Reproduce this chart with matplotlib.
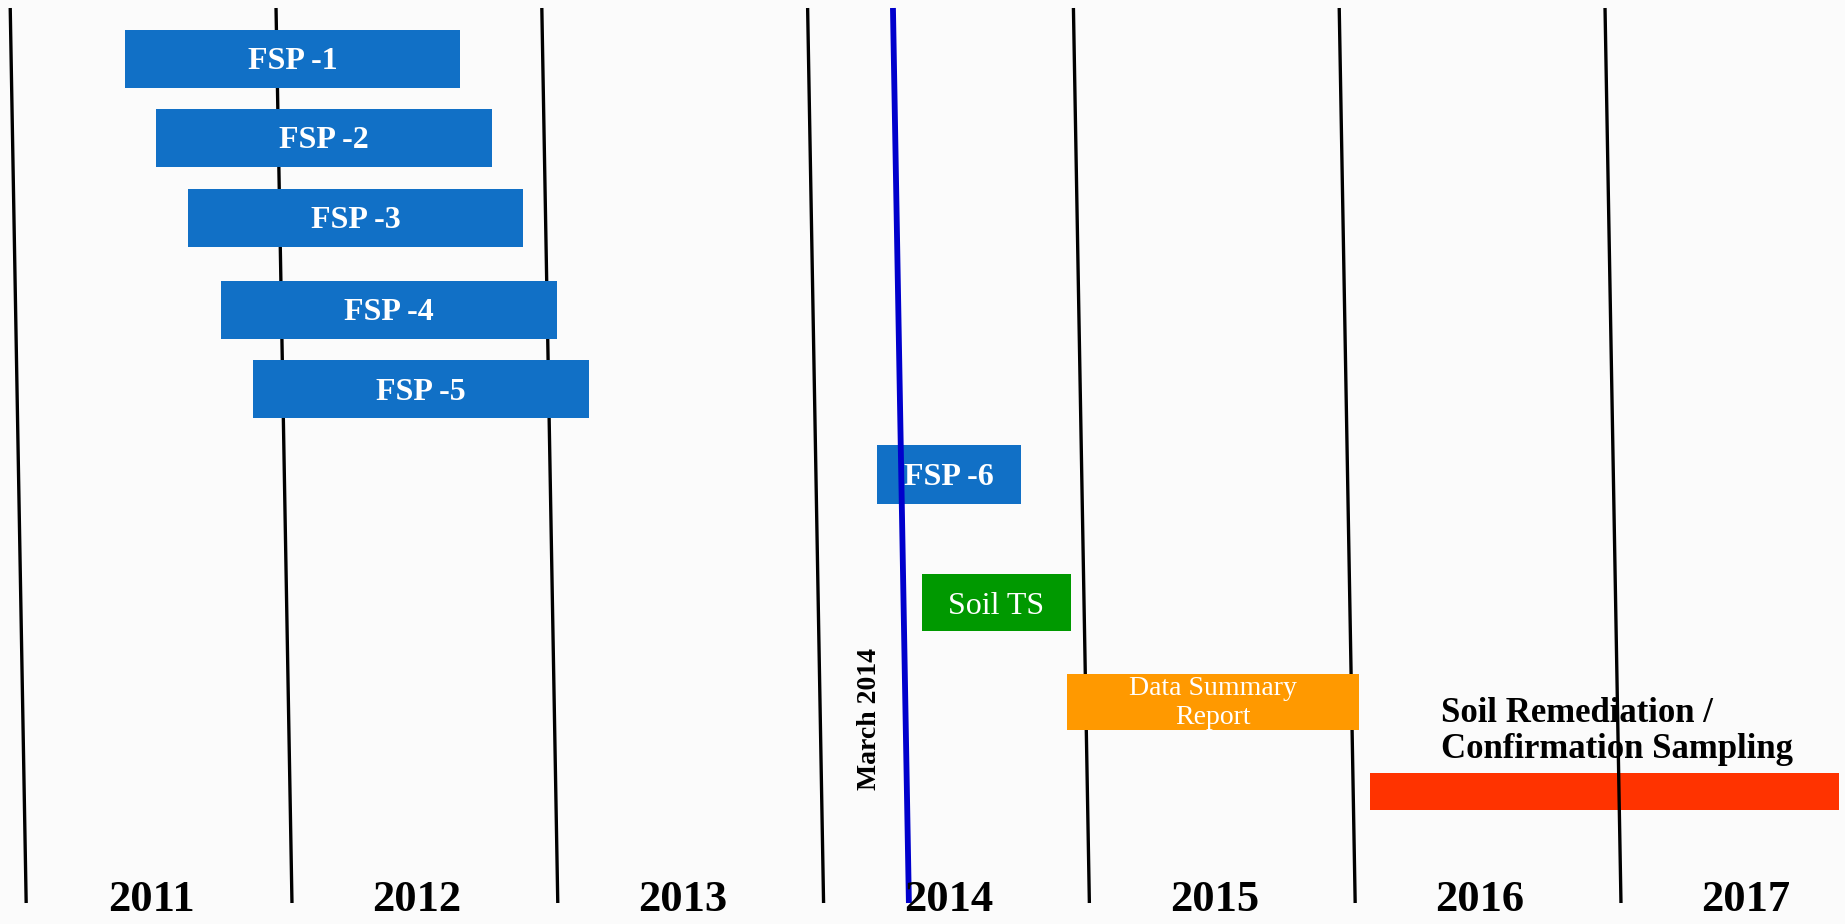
import matplotlib
matplotlib.use('Agg')
import matplotlib.pyplot as plt

# ---------------- data ----------------
years = [2011, 2012, 2013, 2014, 2015, 2016, 2017]
year_labels = ['2011', '2012', '2013', '2014', '2015', '2016', '2017']

tasks = ['FSP -1', 'FSP -2', 'FSP -3', 'FSP -4', 'FSP -5', 'FSP -6',
         'Soil TS', 'Data Summary\nReport', 'Soil Remediation /\nConfirmation Sampling']
starts = [2011.402, 2011.520, 2011.640, 2011.763, 2011.883, 2014.231,
          2014.400, 2014.946, 2016.086]
ends = [2012.662, 2012.782, 2012.901, 2013.027, 2013.148, 2014.773,
        2014.961, 2016.044, 2017.850]
colors = ['#1170C6'] * 6 + ['#009900', '#FF9900', '#FF3300']

milestone = 2014.321
milestone_label = 'March 2014'

# ---------------- layout ----------------
W, H = 1845, 924
row_center = [58.5, 138, 218, 309.5, 389, 474.5, 602, 702, 791.5]
row_height = [58, 58, 58, 58, 58, 59, 57, 56, 37]
px_per_year = 265.8
x0_px = 18.2
tilt = 0.06  # lines are slightly slanted in the original

fig = plt.figure(figsize=(W / 100, H / 100), dpi=100)
bg = '#fbfbfb'
fig.patch.set_facecolor(bg)
ax = fig.add_axes([0, 0, 1, 1])
ax.set_facecolor(bg)
ax.set_xlim(2011 - x0_px / px_per_year, 2011 + (W - x0_px) / px_per_year)
ax.set_ylim(H, 0)
ax.axis('off')

serif = ['Liberation Serif', 'DejaVu Serif']

# year separator lines
for y in years:
    ax.plot([y - tilt / 2, y + tilt / 2], [8, 903], color='black', lw=2.4,
            solid_capstyle='butt', zorder=1)

# milestone line
ax.plot([milestone - tilt / 2, milestone + tilt / 2], [8, 903], color='#0000CC',
        lw=4.2, solid_capstyle='butt', zorder=3)
ax.text(milestone - 0.12, 719, milestone_label, rotation=90, ha='center',
        va='center', fontsize=20, fontweight='bold', family=serif, color='black',
        zorder=5)

# bars
for i, (t, s, e, c) in enumerate(zip(tasks, starts, ends, colors)):
    ax.barh(row_center[i], e - s, left=s, height=row_height[i], color=c,
            edgecolor='none', zorder=2 if i < 8 else 0.5)

# bar labels
for i in range(6):
    ax.text((starts[i] + ends[i]) / 2, row_center[i] + 3, tasks[i], ha='center',
            va='center', fontsize=23, fontweight='bold', color='white',
            family=serif, zorder=4)
ax.text((starts[6] + ends[6]) / 2, row_center[6] + 4, tasks[6], ha='center',
        va='center', fontsize=23, color='white', family=serif, zorder=4)
ax.text((starts[7] + ends[7]) / 2, row_center[7] + 1, tasks[7], ha='center',
        va='center', fontsize=20, color='white', family=serif,
        linespacing=1.25, zorder=4)
ax.text(starts[8] + 0.267, 731, tasks[8], ha='left', va='center',
        fontsize=25, fontweight='bold', color='black', family=serif,
        linespacing=1.12, zorder=4)

# year labels
for y, lab in zip(years, year_labels):
    ax.text(y + 0.5, 911, lab, ha='center', va='baseline', fontsize=32,
            fontweight='bold', color='black', family=serif, zorder=6)

fig.savefig('out.png', dpi=100, facecolor=fig.get_facecolor())
